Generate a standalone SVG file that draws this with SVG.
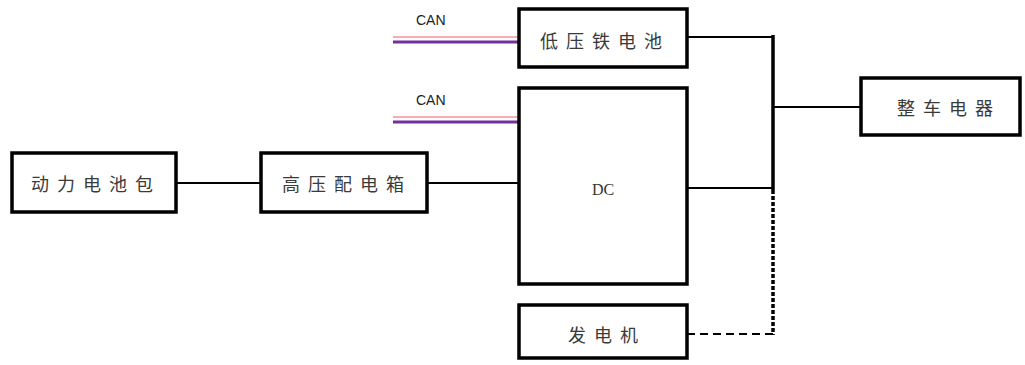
<svg xmlns="http://www.w3.org/2000/svg" width="1025" height="365" viewBox="0 0 1025 365">
<style>
.box{fill:#fff;stroke:#000;stroke-width:3.5}
.lbl{font-family:"Noto Sans CJK SC","Noto Sans",sans-serif;font-size:18px;fill:#3a3a3a;text-anchor:middle;dominant-baseline:central;letter-spacing:8px}
.ln{stroke:#000;stroke-width:2;fill:none}
.bus{stroke:#000;stroke-width:3.5;fill:none}
.can{font-family:"Liberation Sans",Arial,sans-serif;font-size:14px;fill:#222}
</style>
<rect width="1025" height="365" fill="#fff"/>
<g id="connectors">
<line class="ln" x1="176" y1="183" x2="260" y2="183"/>
<line class="ln" x1="427" y1="183" x2="518" y2="183"/>
<line class="ln" x1="687" y1="37" x2="773" y2="37"/>
<line class="ln" x1="687" y1="188" x2="773" y2="188"/>
<line class="bus" x1="773" y1="35" x2="773" y2="190"/>
<line class="bus" x1="773" y1="190" x2="773" y2="335" stroke-dasharray="4,2"/>
<line class="ln" x1="687" y1="334" x2="773" y2="334" stroke-dasharray="8,5"/>
<line class="ln" x1="773" y1="107" x2="861" y2="107"/>
<line x1="393" y1="37" x2="518" y2="37" stroke="#f4b0b0" stroke-width="2"/>
<line x1="393" y1="42" x2="518" y2="42" stroke="#7030a0" stroke-width="3"/>
<line x1="393" y1="117" x2="518" y2="117" stroke="#f4b0b0" stroke-width="2"/>
<line x1="393" y1="122" x2="518" y2="122" stroke="#7030a0" stroke-width="3"/>
<text class="can" x="416" y="25">CAN</text>
<text class="can" x="416" y="105">CAN</text>
</g>
<g id="power-battery"><rect class="box" x="12" y="153" width="164" height="59"/><text class="lbl" x="96" y="183">动力电池包</text></g>
<g id="hv-box"><rect class="box" x="261" y="153" width="166" height="59"/><text class="lbl" x="347" y="183">高压配电箱</text></g>
<g id="lv-battery"><rect class="box" x="519" y="9" width="168" height="58"/><text class="lbl" x="605" y="40">低压铁电池</text></g>
<g id="dc"><rect class="box" x="519" y="88" width="168" height="196"/><text x="603" y="189" font-family="Liberation Serif,serif" font-size="16" fill="#333" text-anchor="middle" dominant-baseline="central">DC</text></g>
<g id="generator"><rect class="box" x="519" y="305" width="168" height="53"/><text class="lbl" x="607" y="334">发电机</text></g>
<g id="vehicle-loads"><rect class="box" x="861" y="78" width="159" height="57"/><text class="lbl" x="949" y="107">整车电器</text></g>
</svg>
